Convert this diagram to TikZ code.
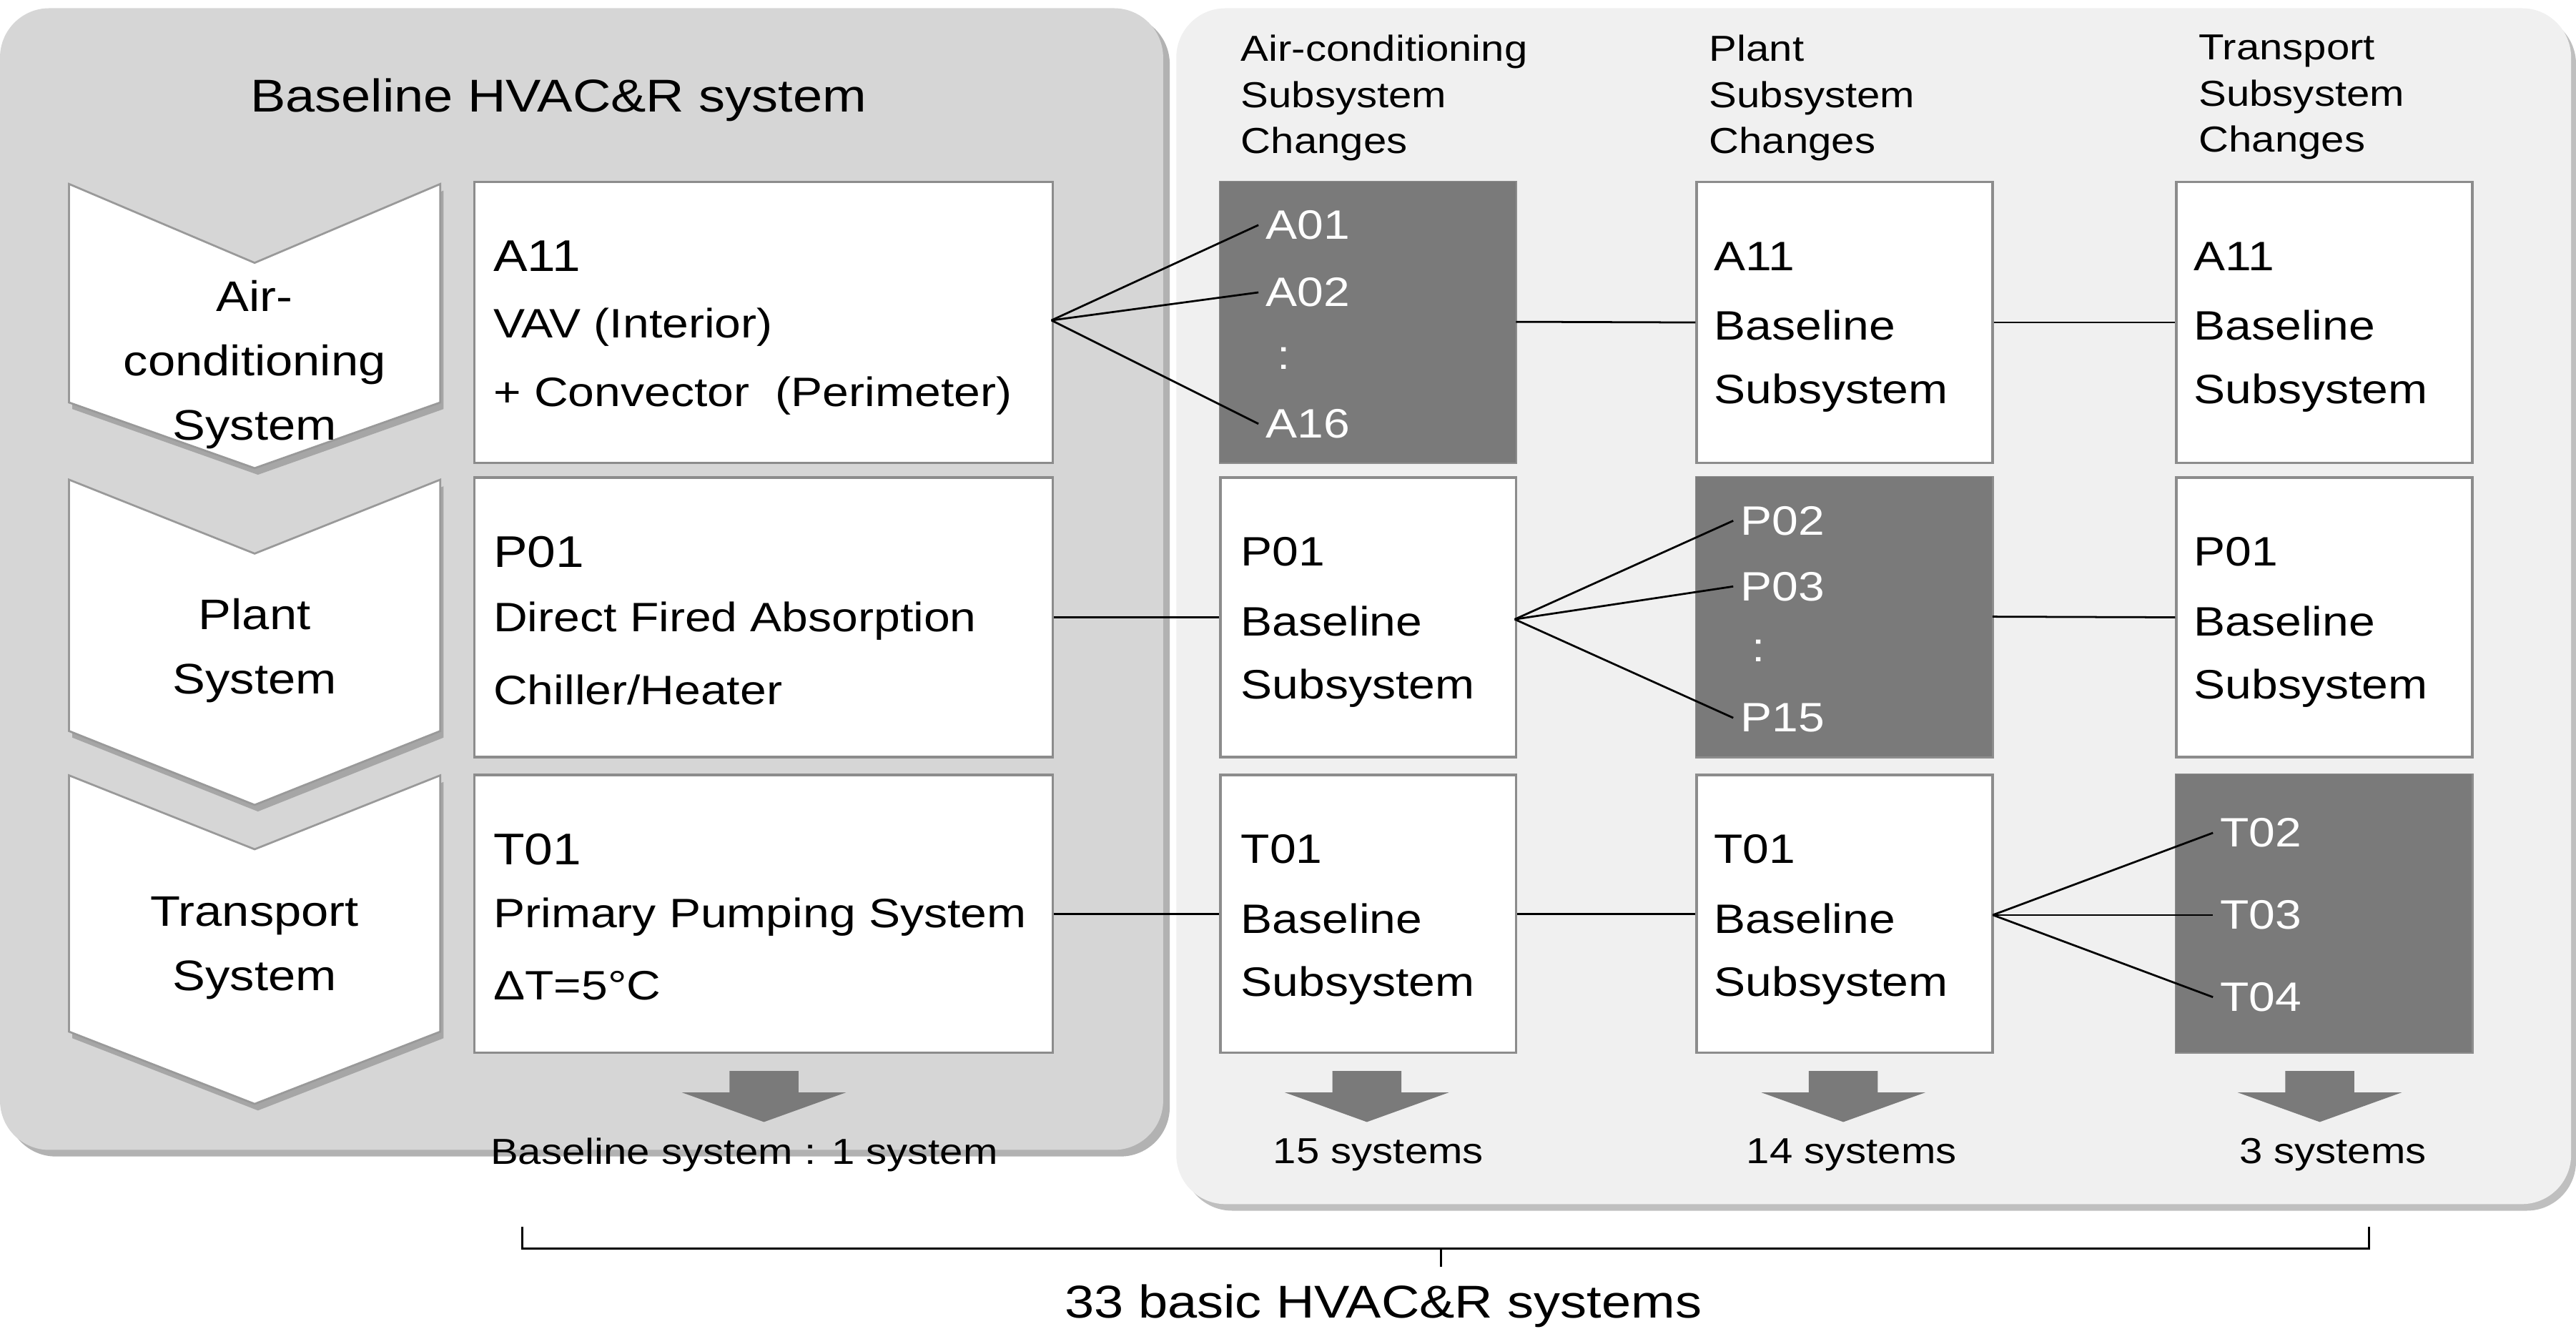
\documentclass[tikz,border=0pt]{standalone}
\usepackage{fontspec}
\setmainfont{Liberation Sans}[FakeStretch=1.15]
\begin{document}
\begin{tikzpicture}[x=0.5pt,y=-0.5pt,
  box/.style={draw=black!45,line width=0.8pt,fill=white},
  dbox/.style={fill=black!52,draw=none},
  txt/.style={font=\fontsize{12.5}{14}\selectfont,anchor=west,inner sep=0pt},
  wtxt/.style={txt,text=white},
  hdr/.style={font=\fontsize{11}{14}\selectfont,anchor=north west,align=left,inner sep=0pt},
  lbl/.style={font=\fontsize{11}{13}\selectfont,inner sep=0pt},
  chev/.style={fill=white,draw=black!40,line width=0.6pt},
  link/.style={draw=black,line width=0.6pt},
  darr/.style={fill=black!52,draw=none}]
\useasboundingbox (0,0) rectangle (1568,812);
% panels
\fill[black!30,rounded corners=15pt] (4,9) rectangle (712,704);
\fill[black!16,rounded corners=15pt] (0,5) rectangle (708,700);
\fill[black!25,rounded corners=15pt] (720,9) rectangle (1568,737);
\fill[black!6,rounded corners=15pt] (716,5) rectangle (1565,733);
\node[font=\fontsize{14}{16}\selectfont] (title) at (340,61) {Baseline HVAC\&R system};
% chevrons
\foreach \t/\n/\b/\tp [count=\i] in {112/160/245/285, 292/337/445/490, 472/517/628/672}{
  \fill[black!35] (44,\t+4)--(157,\n+4)--(270,\t+4)--(270,\b+4)--(157,\tp+4)--(44,\b+4)--cycle;
  \draw[chev] (42,\t)--(155,\n)--(268,\t)--(268,\b)--(155,\tp)--(42,\b)--cycle;
}
\node[font=\fontsize{13}{19.5}\selectfont,align=center] (c1) at (155,222) {Air-\\conditioning\\System};
\node[font=\fontsize{13}{19.5}\selectfont,align=center] (c2) at (155,396) {Plant\\System};
\node[font=\fontsize{13}{19.5}\selectfont,align=center] (c3) at (155,577) {Transport\\System};
% boxes
\node[box,minimum width=176pt,minimum height=85.5pt,anchor=north west] (A1) at (288,110) {};
\node[box,minimum width=176pt,minimum height=85pt,anchor=north west] (A2) at (288,290) {};
\node[box,minimum width=176pt,minimum height=84.5pt,anchor=north west] (A3) at (288,471) {};
\foreach \c/\x in {B/742,C/1032,D/1324}{
  \node[box,minimum width=90pt,minimum height=85.5pt,anchor=north west] (\c1) at (\x,110) {};
  \node[box,minimum width=90pt,minimum height=85pt,anchor=north west] (\c2) at (\x,290) {};
  \node[box,minimum width=90pt,minimum height=84.5pt,anchor=north west] (\c3) at (\x,471) {};
}
\node[dbox,minimum width=90pt,minimum height=85.5pt,anchor=north west] (B1) at (742,110) {};
\node[dbox,minimum width=90pt,minimum height=85pt,anchor=north west] (C2) at (1032,290) {};
\node[dbox,minimum width=90pt,minimum height=84.5pt,anchor=north west] (D3) at (1324,471) {};
% headers
\node[hdr] (h1) at (755,21) {Air-conditioning\\Subsystem\\Changes};
\node[hdr] (h2) at (1040,21) {Plant\\Subsystem\\Changes};
\node[hdr] (h3) at (1338,21) {Transport\\Subsystem\\Changes};
% baseline texts
\node[txt,font=\fontsize{13.5}{15}\selectfont] at (300,156) {A11};
\node[txt] at (300,199) {VAV (Interior)};
\node[txt] at (300,241) {+ Convector\ \ (Perimeter)};
\node[txt,font=\fontsize{13.5}{15}\selectfont] at (300,336) {P01};
\node[txt] at (300,378) {Direct Fired Absorption};
\node[txt] at (300,420) {Chiller/Heater};
\node[txt,font=\fontsize{13.5}{15}\selectfont] at (300,517) {T01};
\node[txt] at (300,558) {Primary Pumping System};
\node[txt] at (300,600) {ΔT=5°C};
% baseline subsystems
\foreach \x/\y/\code in {1043/156/A11,1335/156/A11,755/336/P01,1335/336/P01,755/517/T01,1043/517/T01}{
  \node[txt] at (\x,\y) {\code};
  \node[txt] at (\x,\y+42) {Baseline};
  \node[txt] at (\x,\y+83) {Subsystem};
}
% dark texts
\node[wtxt] (a01) at (770,137) {A01};
\node[wtxt] (a02) at (770,178) {A02};
\node[wtxt] at (777,218) {:};
\node[wtxt] (a16) at (770,258) {A16};
\node[wtxt] (p02) at (1059,317) {P02};
\node[wtxt] (p03) at (1059,357) {P03};
\node[wtxt] at (1066,396) {:};
\node[wtxt] (p15) at (1059,437) {P15};
\node[wtxt] (t02) at (1351,507) {T02};
\node[wtxt] (t03) at (1351,557) {T03};
\node[wtxt] (t04) at (1351,607) {T04};
% fans
\coordinate (fa) at (640,195);
\coordinate (fp) at (922,377);
\coordinate (ft) at (1213,557);
\foreach \n in {a01,a02,a16}{\draw[link] (fa)--([xshift=-2pt]\n.west);}
\foreach \n in {p02,p03,p15}{\draw[link] (fp)--([xshift=-2pt]\n.west);}
\foreach \n in {t02,t03,t04}{\draw[link] (ft)--([xshift=-2pt]\n.west);}
% straight links
\draw[link] (B1.east)--(C1.west);
\draw[link] (C1.east)--(D1.west);
\draw[link] (A2.east)--(B2.west);
\draw[link] (C2.east)--(D2.west);
\draw[link] (A3.east)--(B3.west);
\draw[link] (B3.east)--(C3.west);
% down arrows
\foreach \x in {465,832,1122,1412}{
  \fill[darr] (\x-21,652)--(\x+21,652)--(\x+21,665)--(\x+50,665)--(\x,683)--(\x-50,665)--(\x-21,665)--cycle;
}
\node[lbl] (l0) at (453,703) {Baseline system : 1 system};
\node[lbl] (l1) at (839,703) {15 systems};
\node[lbl] (l2) at (1127,703) {14 systems};
\node[lbl] (l3) at (1420,703) {3 systems};
% brace
\draw[link] (318,747)--(318,760)--(1442,760)--(1442,747);
\draw[link] (877,760)--(877,771);
\node[font=\fontsize{14}{16}\selectfont] (tot) at (842,795) {33 basic HVAC\&R systems};
\end{tikzpicture}
\end{document}
